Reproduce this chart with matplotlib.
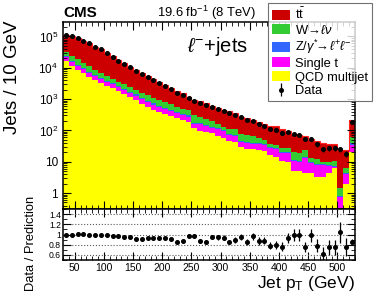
import numpy as np
import matplotlib
matplotlib.use("Agg")
import matplotlib.pyplot as plt
from matplotlib.patches import Patch
from matplotlib.ticker import FuncFormatter, MultipleLocator, FixedLocator

plt.rcParams['font.family'] = ['Liberation Sans', 'DejaVu Sans']
plt.rcParams['mathtext.fontset'] = 'custom'
plt.rcParams['mathtext.rm'] = 'Liberation Sans'
plt.rcParams['mathtext.it'] = 'Liberation Sans:italic'
plt.rcParams['mathtext.bf'] = 'Liberation Sans:bold'

# jet pT bins, 10 GeV wide, 30 -> 530 GeV
edges = np.arange(30, 531, 10)

# observed jets per bin
data = [111700, 106000, 87500, 73400, 60700, 47200, 39000, 29000, 22600, 16900,
        13200, 10400, 8080, 6340, 5080, 3990, 3200, 2570, 2060, 1600,
        1350, 1125, 900, 767, 648, 572, 483, 408, 352, 310,
        262, 215, 207, 158, 140, 111, 107, 83, 89, 75,
        71, 52, 52, 36, 25, 27, 27, 25, 18, 182]

# simulated contributions (stack order: bottom -> top)
qcd = [16900, 11400, 8500, 6700, 5200, 4080, 3340, 2680, 2210, 1815,
       1490, 1190, 970, 700, 570, 465, 387, 334, 288, 244,
       215, 190, 117, 98, 87, 80, 66, 59, 47, 44,
       29, 26, 25, 24, 22, 16, 14.5, 10.8, 10, 5.0,
       5.0, 4.5, 4.3, 3.2, 3.2, 4.45, 6.15, 0, 2.0, 21]
single_t = [5700, 3900, 2900, 2300, 1770, 1390, 1150, 920, 760, 625,
            510, 410, 330, 310, 255, 207, 172, 149, 129, 116,
            103, 88, 49, 62, 51, 37, 42, 37, 24, 24,
            15, 13, 12, 13, 12, 11, 10.5, 7.7, 8.5, 5.5,
            5, 8.3, 4.6, 4.65, 4.65, 3.0, 0.75, 0.76, 2.0, 13.3]
zjets = [2100, 1400, 1100, 820, 650, 500, 410, 330, 270, 220,
         180, 150, 120, 95, 76, 62, 52, 44, 38, 33,
         29, 26, 13, 12, 11, 9, 9, 7, 6, 5,
         3, 3, 3, 3, 3, 2, 2, 1.5, 1.5, 0.8,
         0.8, 1, 0.7, 0.55, 0.55, 0.55, 0.55, 0.06, 0.3, 4.5]
wjets = [8000, 7700, 6200, 4700, 3500, 2600, 2070, 1650, 1200, 960,
         790, 660, 540, 470, 430, 390, 325, 265, 225, 180,
         150, 140, 125, 100, 75, 70, 45, 30, 36, 35,
         30, 27, 25, 16, 12, 9, 7, 7, 6.8, 8.7,
         7.7, 10, 3.8, 3.8, 1.2, 2.0, 3.0, 0.6, 1.8, 24]
ttbar = [79000, 81600, 67900, 58100, 49900, 39200, 32400, 23700, 18700, 13800,
         10780, 8510, 6830, 5320, 4110, 3150, 2500, 1970, 1580, 1310,
         1040, 711, 630, 616, 535, 410, 350, 302, 301, 240,
         199, 184, 150, 125, 110, 104, 100, 82, 69, 56,
         53.5, 45, 39.6, 33.8, 30.4, 26, 25.5, 22.6, 17.9, 151]

labels = ['QCD multijet', 'Single t', r'Z/$\gamma^{*}\!\!\rightarrow\!\ell^{+}\ell^{-}$',
          r'W$\!\rightarrow\!\ell\nu$', r't$\bar{\rm t}$']
colors = ['#ffff00', '#ff00ff', '#3366ff', '#33cc33', '#cc0000']

stack = np.array([qcd, single_t, zjets, wjets, ttbar], dtype=float)
tops = np.cumsum(stack, axis=0)
total = tops[-1]
data = np.array(data, dtype=float)
centers = 0.5 * (edges[:-1] + edges[1:])

fig = plt.figure(figsize=(3.74, 2.99), dpi=100)
ax = fig.add_axes([0.1684, 0.301, 0.7807, 0.6254])
axr = fig.add_axes([0.1684, 0.1304, 0.7807, 0.1706], sharex=ax)

ax.set_yscale('log')
for i in range(len(stack)):
    base = tops[i - 1] if i > 0 else np.zeros_like(total)
    ax.stairs(tops[i], edges, baseline=base, fill=True, color=colors[i], lw=0)
ax.stairs(total, edges, baseline=None, color='#ff2020', lw=0.8)
data_h = ax.errorbar(centers, data, yerr=np.sqrt(data), fmt='o', ms=2.6,
                     color='k', elinewidth=0.9, capsize=0)

ax.set_xlim(30, 530)
ax.set_ylim(0.31, 2.9e5)


def log_fmt(v, pos):
    if v == 1:
        return '1'
    if v == 10:
        return '10'
    return r'$10^{%d}$' % round(np.log10(v))


decades = [1, 10, 1e2, 1e3, 1e4, 1e5]
ax.yaxis.set_major_locator(FixedLocator(decades))
minor = [m * d for d in [0.1] + decades for m in range(2, 10) if 0.31 <= m * d <= 2.9e5]
ax.yaxis.set_minor_locator(FixedLocator(minor))
ax.yaxis.set_major_formatter(FuncFormatter(log_fmt))
ax.yaxis.set_minor_formatter(FuncFormatter(lambda v, p: ''))
ax.xaxis.set_major_locator(MultipleLocator(50))
ax.xaxis.set_minor_locator(MultipleLocator(10))
ax.tick_params(which='both', direction='in', top=True, right=True,
               labelbottom=False, labelsize=8.5)
ax.tick_params(which='major', length=6, width=0.8)
ax.tick_params(which='minor', length=3, width=0.6)
for s in ax.spines.values():
    s.set_linewidth(1.1)

# ratio panel
ratio = data / total
axr.errorbar(centers, ratio, yerr=np.sqrt(data) / total, fmt='o', ms=2.6,
             color='k', elinewidth=0.9, capsize=0)
axr.set_ylim(0.5, 1.5)
axr.yaxis.set_major_locator(FixedLocator([0.6, 0.8, 1.0, 1.2, 1.4]))
axr.yaxis.set_minor_locator(MultipleLocator(0.1))
axr.yaxis.set_major_formatter(FuncFormatter(lambda v, p: '%g' % v))
axr.yaxis.grid(True, ls=':', color='0.35', lw=0.8)
axr.set_axisbelow(True)
axr.tick_params(which='both', direction='in', top=True, right=True, labelsize=7.5, pad=2)
axr.tick_params(axis='y', labelsize=6.2, pad=1.5)
axr.tick_params(which='major', length=6, width=0.8)
axr.tick_params(which='minor', length=3, width=0.6)
for s in axr.spines.values():
    s.set_linewidth(1.1)
axr.set_xlabel(r'Jet p$_{\rm T}$ (GeV)', fontsize=12.5, loc='right', labelpad=1)

fig.text(13 / 374, 1 - 20 / 299, 'Jets / 10 GeV', rotation=90, ha='center', va='top', fontsize=13.5)
fig.text(31 / 374, 1 - 243 / 299, 'Data / Prediction', rotation=90, ha='center', va='center', fontsize=9.3)
fig.text(63 / 374, 1 - 16.7 / 299, 'CMS', fontsize=11, fontweight='bold', ha='left', va='baseline')
fig.text(157 / 374, 1 - 16.7 / 299, r'19.6 fb$^{-1}$ (8 TeV)', fontsize=9.4, ha='left', va='baseline')
fig.text(187 / 374, 1 - 52 / 299, r'$\ell^{-}$+jets', fontsize=14.5, ha='left', va='baseline')

handles = [Patch(facecolor=c, edgecolor='none') for c in colors[::-1]] + [data_h]
leg_labels = labels[::-1] + ['Data']
leg = fig.legend(handles, leg_labels, loc='upper right',
                 bbox_to_anchor=(372 / 374, 1 - 3 / 299), bbox_transform=fig.transFigure,
                 fontsize=9.3, frameon=True, fancybox=False, edgecolor='0.3',
                 borderpad=0.3, labelspacing=0.1, handlelength=1.4, handleheight=0.8,
                 handletextpad=0.4, borderaxespad=0)
leg.get_frame().set_linewidth(0.8)

fig.savefig('out.png', dpi=100)
